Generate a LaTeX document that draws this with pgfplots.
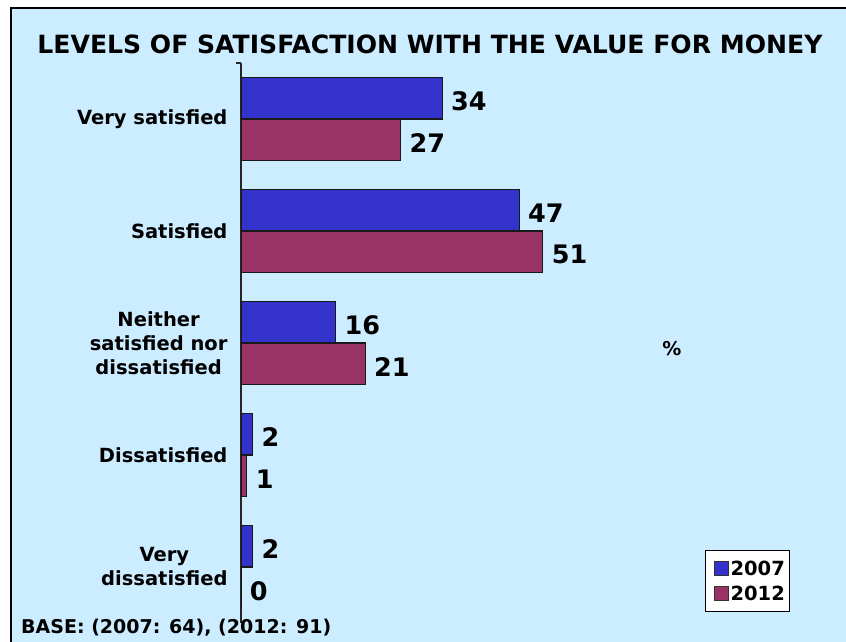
\documentclass[border=0pt]{standalone}
\usepackage{fontspec}
\setmainfont{DejaVu Sans}
\usepackage{pgfplots}
\pgfplotsset{compat=1.18}
\definecolor{bgblue}{HTML}{CCECFF}
\definecolor{bar07}{HTML}{3333CC}
\definecolor{bar12}{HTML}{993366}
\begin{document}
\begin{tikzpicture}
\useasboundingbox (0pt,0pt) rectangle (846pt,642pt);
\fill[white] (0pt,0pt) rectangle (846pt,642pt);
\fill[bgblue] (11pt,0pt) rectangle (846pt,634pt);
\draw[line width=2pt] (11pt,0pt) -- (11pt,634pt) -- (846pt,634pt);
\node[font=\bfseries\fontsize{25.1}{30}\selectfont] at (430pt,598pt) {LEVELS OF SATISFACTION WITH THE VALUE FOR MONEY};
\begin{axis}[
  at={(241pt,19pt)}, anchor=south west,
  scale only axis, width=592pt, height=560pt,
  xmin=0, xmax=100, ymin=-0.5, ymax=4.5,
  axis x line=none, axis y line=left,
  axis line style={-, line width=1.3pt, draw=black!85},
  xbar, bar width=41.5pt,
  ytick={0,1,2,3,4},
  yticklabels={Very\\dissatisfied, Dissatisfied, Neither\\satisfied nor\\dissatisfied, Satisfied, Very satisfied},
  major tick length=0pt,
  yticklabel style={align=center, font=\bfseries\fontsize{19.5}{24}\selectfont, xshift=-10pt},
  /pgf/number format/assume math mode=true,
  nodes near coords, point meta=x,
  every node near coord/.append style={font=\bfseries\fontsize{25.5}{30}\selectfont, anchor=west, xshift=5pt, yshift=-3pt, text=black},
  legend style={at={(0.784,0.130)}, anchor=north west, draw=black, line width=1pt, fill=white,
    font=\bfseries\fontsize{19.5}{23}\selectfont, inner xsep=3pt, inner ysep=8pt, row sep=5pt,
    /tikz/every even column/.append style={column sep=4pt}},
]
\addplot[fill=bar07, draw=black!90, line width=1.1pt, bar shift=20.75pt,
  legend image code/.code={\path (0pt,0pt); \draw[fill=bar07, draw=black!80, line width=0.8pt] (5pt,-7pt) rectangle (19pt,7pt);}]
  coordinates {(2,0) (2,1) (16,2) (47,3) (34,4)};
\addlegendentry{2007}
\addplot[fill=bar12, draw=black!90, line width=1.1pt, bar shift=-20.75pt,
  legend image code/.code={\path (0pt,0pt); \draw[fill=bar12, draw=black!80, line width=0.8pt] (5pt,-7pt) rectangle (19pt,7pt);}]
  coordinates {(0,0) (1,1) (21,2) (51,3) (27,4)};
\addlegendentry{2012}
\end{axis}
\draw[line width=1.3pt, black!85] (236pt,579pt) -- (241pt,579pt);
\node[font=\bfseries\fontsize{19}{22}\selectfont] at (672pt,293pt) {\%};
\node[font=\bfseries\fontsize{19}{22}\selectfont, anchor=west, inner sep=0pt] at (21pt,14pt) {BASE: (2007: 64), (2012: 91)};
\end{tikzpicture}
\end{document}
